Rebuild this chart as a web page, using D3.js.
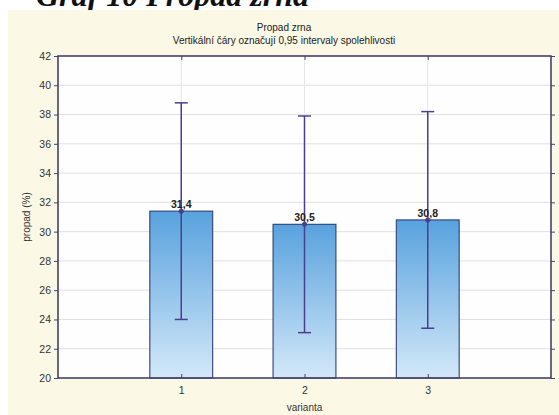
<!DOCTYPE html>
<html>
<head>
<meta charset="utf-8">
<script src="https://cdn.jsdelivr.net/npm/d3@7"></script>
<style>
  body { margin: 0; background: #ffffff; }
  svg { display: block; }
</style>
</head>
<body>
<svg id="chart" width="559" height="415"></svg>
<script>
// Mean grain loss per variant with 0.95 confidence intervals
const categories = ["1", "2", "3"];
const means = [31.4, 30.5, 30.8];
const ciLower = [24.0, 23.1, 23.4];
const ciUpper = [38.8, 37.9, 38.2];
const valueLabels = ["31,4", "30,5", "30,8"];
const yTicks = [20, 22, 24, 26, 28, 30, 32, 34, 36, 38, 40, 42];

const svg = d3.select("#chart");
const W = 559, H = 415;
const plot = { left: 58, right: 551, top: 56, bottom: 378 };
const font = "'Liberation Sans', Arial, sans-serif";
const frameColor = "#45426e";
const errColor = "#4a3f8e";

// Page heading (partly above the panel edge)
svg.append("text")
  .attr("x", 36).attr("y", 6)
  .attr("font-family", "'Liberation Serif', 'DejaVu Serif', serif")
  .attr("font-style", "italic").attr("font-weight", "bold")
  .attr("font-size", 32).attr("fill", "#111")
  .text("Graf 10 Propad zrna");

// Cream panel
svg.append("rect")
  .attr("x", 8).attr("y", 10).attr("width", W - 8).attr("height", H - 10)
  .attr("fill", "#fbf8e6");

const x = d3.scalePoint().domain(categories).range([plot.left, plot.right]).padding(1);
const y = d3.scaleLinear().domain([20, 42]).range([plot.bottom, plot.top]);
const barW = x.step() * 0.51;

// Plot background
svg.append("rect")
  .attr("x", plot.left).attr("y", plot.top)
  .attr("width", plot.right - plot.left).attr("height", plot.bottom - plot.top)
  .attr("fill", "#fefefe");

// Bar gradient
const defs = svg.append("defs");
const grad = defs.append("linearGradient").attr("id", "barGrad")
  .attr("x1", 0).attr("y1", 0).attr("x2", 0).attr("y2", 1);
grad.append("stop").attr("offset", "0%").attr("stop-color", "#58a2de");
grad.append("stop").attr("offset", "100%").attr("stop-color", "#d3e8f8");

// Grid lines
svg.append("g").selectAll("line").data(yTicks.slice(1, -1)).join("line")
  .attr("x1", plot.left).attr("x2", plot.right)
  .attr("y1", d => y(d)).attr("y2", d => y(d))
  .attr("stroke", "#e0e0e0").attr("stroke-width", 1);
svg.append("g").selectAll("line").data(categories).join("line")
  .attr("x1", d => x(d)).attr("x2", d => x(d))
  .attr("y1", plot.top).attr("y2", plot.bottom)
  .attr("stroke", "#e6e6e6").attr("stroke-width", 1);

// Bars
svg.append("g").selectAll("rect").data(categories).join("rect")
  .attr("x", d => x(d) - barW / 2)
  .attr("y", (d, i) => y(means[i]))
  .attr("width", barW)
  .attr("height", (d, i) => y(20) - y(means[i]))
  .attr("fill", "url(#barGrad)")
  .attr("stroke", "#2f3f74").attr("stroke-width", 1.1);

// Confidence intervals
const eb = svg.append("g").attr("stroke", errColor).attr("stroke-width", 1.5);
eb.selectAll("line.v").data(categories).join("line").attr("class", "v")
  .attr("x1", d => x(d)).attr("x2", d => x(d))
  .attr("y1", (d, i) => y(ciUpper[i])).attr("y2", (d, i) => y(ciLower[i]));
eb.selectAll("line.t").data(categories).join("line").attr("class", "t")
  .attr("x1", d => x(d) - 6.5).attr("x2", d => x(d) + 6.5)
  .attr("y1", (d, i) => y(ciUpper[i])).attr("y2", (d, i) => y(ciUpper[i]));
eb.selectAll("line.b").data(categories).join("line").attr("class", "b")
  .attr("x1", d => x(d) - 6.5).attr("x2", d => x(d) + 6.5)
  .attr("y1", (d, i) => y(ciLower[i])).attr("y2", (d, i) => y(ciLower[i]));
svg.append("g").selectAll("circle").data(categories).join("circle")
  .attr("cx", d => x(d)).attr("cy", (d, i) => y(means[i]))
  .attr("r", 2.5).attr("fill", errColor);

// Value labels
svg.append("g").selectAll("text").data(categories).join("text")
  .attr("x", d => x(d)).attr("y", (d, i) => y(means[i]) - 3)
  .attr("text-anchor", "middle")
  .attr("font-family", font).attr("font-size", 10.5).attr("font-weight", "bold")
  .attr("fill", "#222")
  .text((d, i) => valueLabels[i]);

// Axes
const axisStyle = g => {
  g.select(".domain").remove();
  g.selectAll(".tick line").attr("stroke", frameColor);
  g.selectAll(".tick text").attr("font-family", font).attr("font-size", 10.5).attr("fill", "#333");
};
svg.append("g").attr("transform", `translate(${plot.left},0)`)
  .call(d3.axisLeft(y).tickValues(yTicks).tickFormat(d3.format("d")).tickSize(4).tickPadding(3))
  .call(axisStyle);
svg.append("g").attr("transform", `translate(${plot.right},0)`)
  .call(d3.axisRight(y).tickValues(yTicks).tickFormat("").tickSize(4))
  .call(axisStyle);
svg.append("g").attr("transform", `translate(0,${plot.bottom})`)
  .call(d3.axisTop(x).tickFormat("").tickSize(4))
  .call(axisStyle);
svg.append("g").attr("transform", `translate(0,${plot.bottom})`)
  .call(d3.axisBottom(x).tickSize(0).tickPadding(9))
  .call(axisStyle);
svg.append("g").attr("transform", `translate(0,${plot.top})`)
  .call(d3.axisBottom(x).tickFormat("").tickSize(4))
  .call(axisStyle);

// Frame
svg.append("rect")
  .attr("x", plot.left).attr("y", plot.top)
  .attr("width", plot.right - plot.left).attr("height", plot.bottom - plot.top)
  .attr("fill", "none").attr("stroke", frameColor).attr("stroke-width", 1.6);

// Titles
svg.append("text").attr("x", 284).attr("y", 31).attr("text-anchor", "middle")
  .attr("font-family", font).attr("font-size", 10).attr("fill", "#222")
  .text("Propad zrna");
svg.append("text").attr("x", 284).attr("y", 44).attr("text-anchor", "middle")
  .attr("font-family", font).attr("font-size", 10).attr("fill", "#222")
  .text("Vertikální čáry označují 0,95 intervaly spolehlivosti");

svg.append("text")
  .attr("transform", `translate(30,${(plot.top + plot.bottom) / 2}) rotate(-90)`)
  .attr("text-anchor", "middle")
  .attr("font-family", font).attr("font-size", 10).attr("fill", "#333")
  .text("propad (%)");
svg.append("text").attr("x", x("2")).attr("y", 411).attr("text-anchor", "middle")
  .attr("font-family", font).attr("font-size", 10).attr("fill", "#333")
  .text("varianta");
</script>
</body>
</html>
